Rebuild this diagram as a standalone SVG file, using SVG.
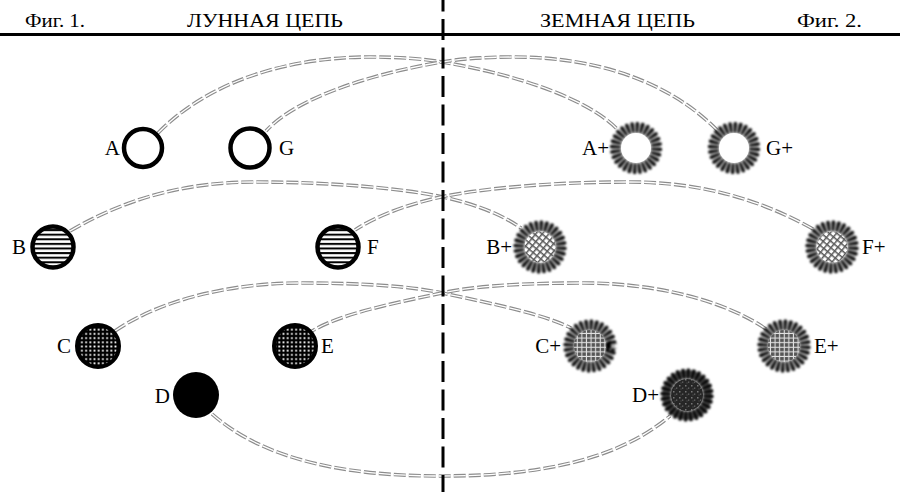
<svg xmlns="http://www.w3.org/2000/svg" width="900" height="492" viewBox="0 0 900 492">
<style>
  .hdr { font-family: "Liberation Serif", "Times New Roman", serif; font-size: 18px; fill: #000; }
  .lbl { font-family: "Liberation Serif", "Times New Roman", serif; font-size: 21px; fill: #000; }
  .conn-o { fill: none; stroke: #8c8c8c; stroke-width: 3.6; stroke-dasharray: 12 3; }
  .conn-i { fill: none; stroke: #fff; stroke-width: 1.3; stroke-dasharray: 12 3; }
  .ring { fill: #fff; stroke: #000; stroke-width: 4.5; }
  .tickbase { fill: none; stroke: #a8a8a8; stroke-width: 8; filter: url(#soft); }
  .ticks { fill: none; stroke: #000; stroke-width: 11; stroke-dasharray: 1.05 0.95; filter: url(#soft); }
</style>
<defs>
  <filter id="soft" filterUnits="userSpaceOnUse" x="0" y="0" width="900" height="492">
    <feGaussianBlur stdDeviation="0.8"/>
  </filter>
  <pattern id="hstripes" patternUnits="userSpaceOnUse" width="10" height="4.6">
    <rect width="10" height="4.6" fill="#000"/>
    <rect y="1.1" width="10" height="2.6" fill="#fff"/>
  </pattern>
  <pattern id="dots" patternUnits="userSpaceOnUse" width="4.2" height="4.2">
    <rect width="4.2" height="4.2" fill="#000"/>
    <rect x="1.2" y="1.2" width="1.8" height="1.8" fill="#fff"/>
  </pattern>
  <pattern id="hatch" patternUnits="userSpaceOnUse" width="5" height="5" patternTransform="rotate(40)">
    <rect width="5" height="5" fill="#fff"/>
    <rect width="5" height="1.5" fill="#5a5a5a"/>
    <rect width="1.5" height="5" fill="#5a5a5a"/>
  </pattern>
  <pattern id="plaid" patternUnits="userSpaceOnUse" width="4.6" height="4.6">
    <rect width="4.6" height="4.6" fill="#555"/>
    <rect y="1.7" width="4.6" height="1.1" fill="#e0e0e0"/>
    <rect x="1.7" width="1.1" height="4.6" fill="#e0e0e0"/>
  </pattern>
  <pattern id="mottle" patternUnits="userSpaceOnUse" width="6" height="6">
    <rect width="6" height="6" fill="#262626"/>
    <rect x="1" y="1" width="1.5" height="1.5" fill="#777"/>
    <rect x="4" y="3.5" width="1.3" height="1.3" fill="#666"/>
    <rect x="2.5" y="4.5" width="1" height="1" fill="#555"/>
  </pattern>
</defs>
<rect width="900" height="492" fill="#fff"/>

<g id="header">
  <line x1="0" y1="34.5" x2="900" y2="34.5" stroke="#000" stroke-width="3"/>
  <text class="hdr" x="25" y="27" textLength="60" lengthAdjust="spacingAndGlyphs">Фиг. 1.</text>
  <text class="hdr" x="187" y="27" textLength="156" lengthAdjust="spacingAndGlyphs">ЛУННАЯ ЦЕПЬ</text>
  <text class="hdr" x="540" y="27" textLength="155" lengthAdjust="spacingAndGlyphs">ЗЕМНАЯ ЦЕПЬ</text>
  <text class="hdr" x="797" y="27" textLength="65" lengthAdjust="spacingAndGlyphs">Фиг. 2.</text>
</g>

<g id="connectors">
  <g id="conn-A">
    <path class="conn-o" d="M158,133 C210,80 290,57 370,57 C400,57 425,59 442,62 C520,75 590,100 618,130"/>
    <path class="conn-i" d="M158,133 C210,80 290,57 370,57 C400,57 425,59 442,62 C520,75 590,100 618,130"/>
  </g>
  <g id="conn-G">
    <path class="conn-o" d="M718,131 C668,80 594,57 514,57 C484,57 459,59 442,62 C364,75 294,100 266,131"/>
    <path class="conn-i" d="M718,131 C668,80 594,57 514,57 C484,57 459,59 442,62 C364,75 294,100 266,131"/>
  </g>
  <g id="conn-B">
    <path class="conn-o" d="M70,231 C130,196 190,182 255,182 C330,182 400,188 443,197 C475,204 503,215 521,228"/>
    <path class="conn-i" d="M70,231 C130,196 190,182 255,182 C330,182 400,188 443,197 C475,204 503,215 521,228"/>
  </g>
  <g id="conn-F">
    <path class="conn-o" d="M813,229 C754,196 694,182 629,182 C554,182 484,188 441,197 C409,204 378,215 355,230"/>
    <path class="conn-i" d="M813,229 C754,196 694,182 629,182 C554,182 484,188 441,197 C409,204 378,215 355,230"/>
  </g>
  <g id="conn-C">
    <path class="conn-o" d="M115,331 C160,300 230,283 300,283 C370,283 415,287 442,293 C500,305 545,315 571,328"/>
    <path class="conn-i" d="M115,331 C160,300 230,283 300,283 C370,283 415,287 442,293 C500,305 545,315 571,328"/>
  </g>
  <g id="conn-E">
    <path class="conn-o" d="M766,329 C724,300 654,283 584,283 C514,283 469,287 442,293 C384,305 339,315 312,331"/>
    <path class="conn-i" d="M766,329 C724,300 654,283 584,283 C514,283 469,287 442,293 C384,305 339,315 312,331"/>
  </g>
  <g id="conn-D">
    <path class="conn-o" d="M212,414 C270,465 360,476 442,476 C524,476 612,465 670,416"/>
    <path class="conn-i" d="M212,414 C270,465 360,476 442,476 C524,476 612,465 670,416"/>
  </g>
</g>

<g id="divider">
  <line x1="443" y1="0" x2="443" y2="492" stroke="#000" stroke-width="3" stroke-dasharray="21 7.5" stroke-dashoffset="9.5"/>
</g>

<g id="node-A">
  <circle class="ring" cx="143" cy="148" r="19"/>
  <text class="lbl" x="120" y="155" text-anchor="end">A</text>
</g>
<g id="node-G">
  <circle class="ring" cx="250" cy="148" r="19.5"/>
  <text class="lbl" x="279" y="155">G</text>
</g>
<g id="node-B">
  <circle cx="53" cy="247" r="20.5" fill="url(#hstripes)" stroke="#000" stroke-width="4.5"/>
  <text class="lbl" x="26" y="254" text-anchor="end">B</text>
</g>
<g id="node-F">
  <circle cx="338" cy="247" r="20.5" fill="url(#hstripes)" stroke="#000" stroke-width="4.5"/>
  <text class="lbl" x="367" y="254">F</text>
</g>
<g id="node-C">
  <circle cx="98" cy="346" r="21" fill="url(#dots)" stroke="#000" stroke-width="4"/>
  <text class="lbl" x="71" y="353" text-anchor="end">C</text>
</g>
<g id="node-E">
  <circle cx="295" cy="346" r="21" fill="url(#dots)" stroke="#000" stroke-width="4"/>
  <text class="lbl" x="321" y="353">E</text>
</g>
<g id="node-D">
  <circle cx="196" cy="395" r="23" fill="#000"/>
  <text class="lbl" x="170" y="403" text-anchor="end">D</text>
</g>

<g id="node-Aplus">
  <circle class="tickbase" cx="636" cy="148" r="20.5"/>
  <circle class="ticks" cx="636" cy="148" r="20.5" pathLength="56"/>
  <circle cx="636" cy="148" r="15" fill="#fff"/>
  <text class="lbl" x="609" y="155" text-anchor="end">A+</text>
</g>
<g id="node-Gplus">
  <circle class="tickbase" cx="734" cy="148" r="20.5"/>
  <circle class="ticks" cx="734" cy="148" r="20.5" pathLength="56"/>
  <circle cx="734" cy="148" r="15" fill="#fff"/>
  <text class="lbl" x="766" y="155">G+</text>
</g>
<g id="node-Bplus">
  <circle class="tickbase" cx="540" cy="247" r="21"/>
  <circle class="ticks" cx="540" cy="247" r="21" pathLength="56"/>
  <circle cx="540" cy="247" r="15.5" fill="url(#hatch)"/>
  <text class="lbl" x="512" y="254" text-anchor="end">B+</text>
</g>
<g id="node-Fplus">
  <circle class="tickbase" cx="832" cy="247" r="21"/>
  <circle class="ticks" cx="832" cy="247" r="21" pathLength="56"/>
  <circle cx="832" cy="247" r="15.5" fill="url(#hatch)"/>
  <text class="lbl" x="862" y="254">F+</text>
</g>
<g id="node-Cplus">
  <circle class="tickbase" cx="590" cy="346" r="21"/>
  <circle class="ticks" cx="590" cy="346" r="21" pathLength="56"/>
  <circle cx="590" cy="346" r="16" fill="url(#plaid)"/>
  <text class="lbl" x="561" y="353" text-anchor="end">C+</text>
</g>
<g id="node-Eplus">
  <circle class="tickbase" cx="784" cy="346" r="21"/>
  <circle class="ticks" cx="784" cy="346" r="21" pathLength="56"/>
  <circle cx="784" cy="346" r="16" fill="url(#plaid)"/>
  <text class="lbl" x="814" y="353">E+</text>
</g>
<g id="node-Dplus">
  <circle class="tickbase" cx="687" cy="395" r="21" style="stroke:#444"/>
  <circle class="ticks" cx="687" cy="395" r="21" pathLength="56"/>
  <circle cx="687" cy="395" r="16" fill="url(#mottle)"/>
  <text class="lbl" x="659" y="402" text-anchor="end">D+</text>
</g>
</svg>
